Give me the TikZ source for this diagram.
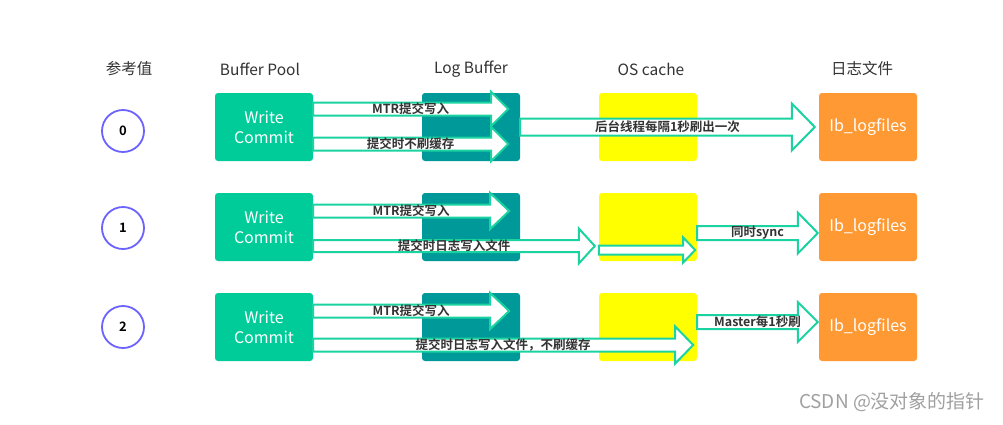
\documentclass[tikz,border=0pt]{standalone}
\usepackage{fontspec}
\setmainfont{Noto Sans CJK SC}[BoldFont={Noto Sans CJK SC Bold}]
\usetikzlibrary{positioning,calc}
\definecolor{poolgreen}{HTML}{00CC99}
\definecolor{logteal}{HTML}{009999}
\definecolor{cacheyellow}{HTML}{FFFF00}
\definecolor{fileorange}{HTML}{FF9933}
\definecolor{arrowgreen}{HTML}{1AD3A0}
\definecolor{ringblue}{HTML}{6C63FF}
\definecolor{textgray}{HTML}{333333}
\definecolor{markgray}{HTML}{A0A0A0}

\tikzset{
  box/.style={minimum width=98pt, minimum height=68pt, rounded corners=3pt, inner sep=0pt, text=white, align=center, font=\fontsize{16}{20}\selectfont},
  head/.style={text=textgray, font=\fontsize{15.5}{18}\selectfont},
  ring/.style={circle, draw=ringblue, line width=1.8pt, minimum size=42pt, inner sep=0pt, font=\bfseries\fontsize{13}{15}\selectfont},
  blockarr/.style={draw=arrowgreen, fill=white, line width=2pt},
  arrtext/.style={text=textgray, font=\bfseries\fontsize{12.5}{14}\selectfont, inner sep=0pt},
}

% from, y shift, to, x shift, shaft, head, head length, label
\newcommand{\blockarrow}[8]{
  \coordinate (s) at ($(#1)+(0,#2)$);
  \coordinate (t) at ($(s -| #3)+(#4,0)$);
  \draw[blockarr] let \p1=(s), \p2=(t) in
    (\x1,\y1+#5) -- (\x2-#7,\y1+#5) -- (\x2-#7,\y1+#6) -- (\x2,\y1)
    -- (\x2-#7,\y1-#6) -- (\x2-#7,\y1-#5) -- (\x1,\y1-#5) -- cycle;
  \node[arrtext] at ($(s)!0.5!(t)$) {#8};
}

\begin{document}
\begin{tikzpicture}[x=1pt,y=-1pt,node distance=100pt,on grid]
   \fill[white] (0,0) rectangle (1003,424);
   \useasboundingbox (0,0) rectangle (1003,424);
   % first row
   \node[box,fill=poolgreen] (wc0) at (264,127) {Write\\Commit};
   \node[box,fill=logteal] (lb0) [right=207pt of wc0] {};
   \node[box,fill=cacheyellow] (os0) [right=177pt of lb0] {};
   \node[box,fill=fileorange] (lf0) [right=220pt of os0] {Ib\_logfiles};
   % second row
   \node[box,fill=poolgreen] (wc1) [below=of wc0] {Write\\Commit};
   \node[box,fill=logteal] (lb1) [right=207pt of wc1] {};
   \node[box,fill=cacheyellow] (os1) [right=177pt of lb1] {};
   \node[box,fill=fileorange] (lf1) [right=220pt of os1] {Ib\_logfiles};
   % third row
   \node[box,fill=poolgreen] (wc2) [below=of wc1] {Write\\Commit};
   \node[box,fill=logteal] (lb2) [right=207pt of wc2] {};
   \node[box,fill=cacheyellow] (os2) [right=177pt of lb2] {};
   \node[box,fill=fileorange] (lf2) [right=220pt of os2] {Ib\_logfiles};
   % headings
   \node[head] (hval) at (129,69) {参考值};
   \node[head] (hpool) [above=58pt of wc0, xshift=-4pt] {Buffer Pool};
   \node[head] (hlog) [above=58pt of lb0] {Log Buffer};
   \node[head] (hos) [above=58pt of os0, xshift=3pt] {OS cache};
   \node[head] (hfile) [above=58pt of lf0, xshift=-6pt] {日志文件};
   % values
   \node[ring] (v0) at (123,131) {0};
   \node[ring] (v1) [below=97pt of v0] {1};
   \node[ring] (v2) [below=99pt of v1] {2};
   % arrows
   \blockarrow{wc0.east}{-18}{lb0.east}{-12}{6.5pt}{17pt}{17pt}{MTR提交写入}
   \blockarrow{wc0.east}{17}{lb0.east}{-12}{6.5pt}{17pt}{17pt}{提交时不刷缓存}
   \blockarrow{lb0.east}{0}{lf0.west}{-4}{8.5pt}{23.5pt}{23pt}{后台线程每隔1秒刷出一次}
   \blockarrow{wc1.east}{-16}{lb1.east}{-11}{6.5pt}{18pt}{19pt}{MTR提交写入}
   \blockarrow{wc1.east}{19}{os1.west}{-4}{6pt}{17.5pt}{16pt}{提交时日志写入文件}
   \blockarrow{os1.west}{23}{os1.east}{-2}{4.5pt}{12.5pt}{12pt}{}
   \blockarrow{os1.east}{6}{lf1.west}{-1}{7pt}{20.5pt}{20pt}{同时sync}
   \blockarrow{wc2.east}{-16}{lb2.east}{-11}{6.5pt}{18pt}{19pt}{MTR提交写入}
   \blockarrow{wc2.east}{18}{os2.east}{-4}{6.5pt}{18.5pt}{18pt}{提交时日志写入文件，不刷缓存}
   \blockarrow{os2.east}{-5}{lf2.west}{-1}{7pt}{20pt}{20pt}{Master每1秒刷}
   \node[text=markgray,font=\fontsize{19}{21}\selectfont] (mark) at (892,402) {CSDN @没对象的指针};
\end{tikzpicture}
\end{document}
